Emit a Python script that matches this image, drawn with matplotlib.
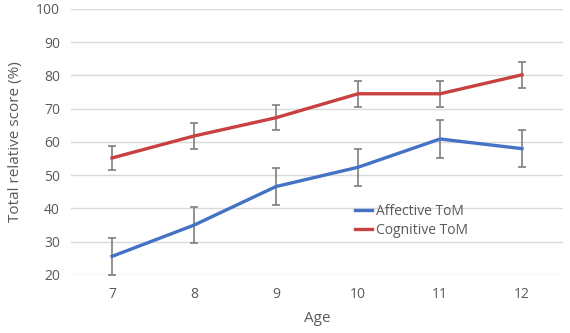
import matplotlib
matplotlib.use("Agg")
import matplotlib.pyplot as plt
import numpy as np

ages = ["7", "8", "9", "10", "11", "12"]
affective = [25.6, 35.0, 46.6, 52.4, 60.9, 58.0]
affective_err = [5.6, 5.5, 5.7, 5.6, 5.6, 5.6]
cognitive = [55.2, 61.8, 67.3, 74.5, 74.5, 80.2]
cognitive_err = [3.7, 3.8, 3.8, 3.9, 3.9, 3.9]

plt.rcParams["font.family"] = ["Open Sans", "DejaVu Sans"]
text_color = "#595959"

fig = plt.figure(figsize=(5.7, 3.33), dpi=100)
ax = fig.add_axes([0.1246, 0.1742, 0.8631, 0.7988])

x = np.arange(len(ages))
ax.errorbar(x, affective, yerr=affective_err, color="#4472C4", linewidth=2.4,
            ecolor="#7f7f7f", elinewidth=1.2, capsize=3, capthick=1.2,
            label="Affective ToM", zorder=3)
ax.errorbar(x, cognitive, yerr=cognitive_err, color="#C94040", linewidth=2.4,
            ecolor="#7f7f7f", elinewidth=1.2, capsize=3, capthick=1.2,
            label="Cognitive ToM", zorder=3)

ax.set_xlim(-0.5, len(ages) - 0.5)
ax.set_ylim(20, 100)
ax.set_yticks(range(20, 101, 10))
ax.set_xticks(x)
ax.set_xticklabels(ages)
ax.grid(axis="y", color="#d9d9d9", linewidth=1)
ax.set_axisbelow(True)
for side in ["top", "right", "left", "bottom"]:
    ax.spines[side].set_visible(False)
ax.tick_params(length=0, colors=text_color, labelsize=10)
ax.tick_params(axis="x", pad=9)
ax.tick_params(axis="y", pad=8)

ax.set_xlabel("Age", color=text_color, fontsize=11, labelpad=6)
ax.set_ylabel("Total relative score (%)", color=text_color, fontsize=11, labelpad=9)

handles, labels = ax.get_legend_handles_labels()
handles = [h[0] for h in handles]
leg = ax.legend(handles, labels, loc="center left", frameon=False, fontsize=10,
                handlelength=1.2, handletextpad=0.3, labelspacing=0.3,
                borderaxespad=0, borderpad=0)
leg.set_bbox_to_anchor((355 / 570, 1 - 221 / 333), transform=fig.transFigure)
for t in leg.get_texts():
    t.set_color(text_color)

fig.savefig("out.png", dpi=100)
